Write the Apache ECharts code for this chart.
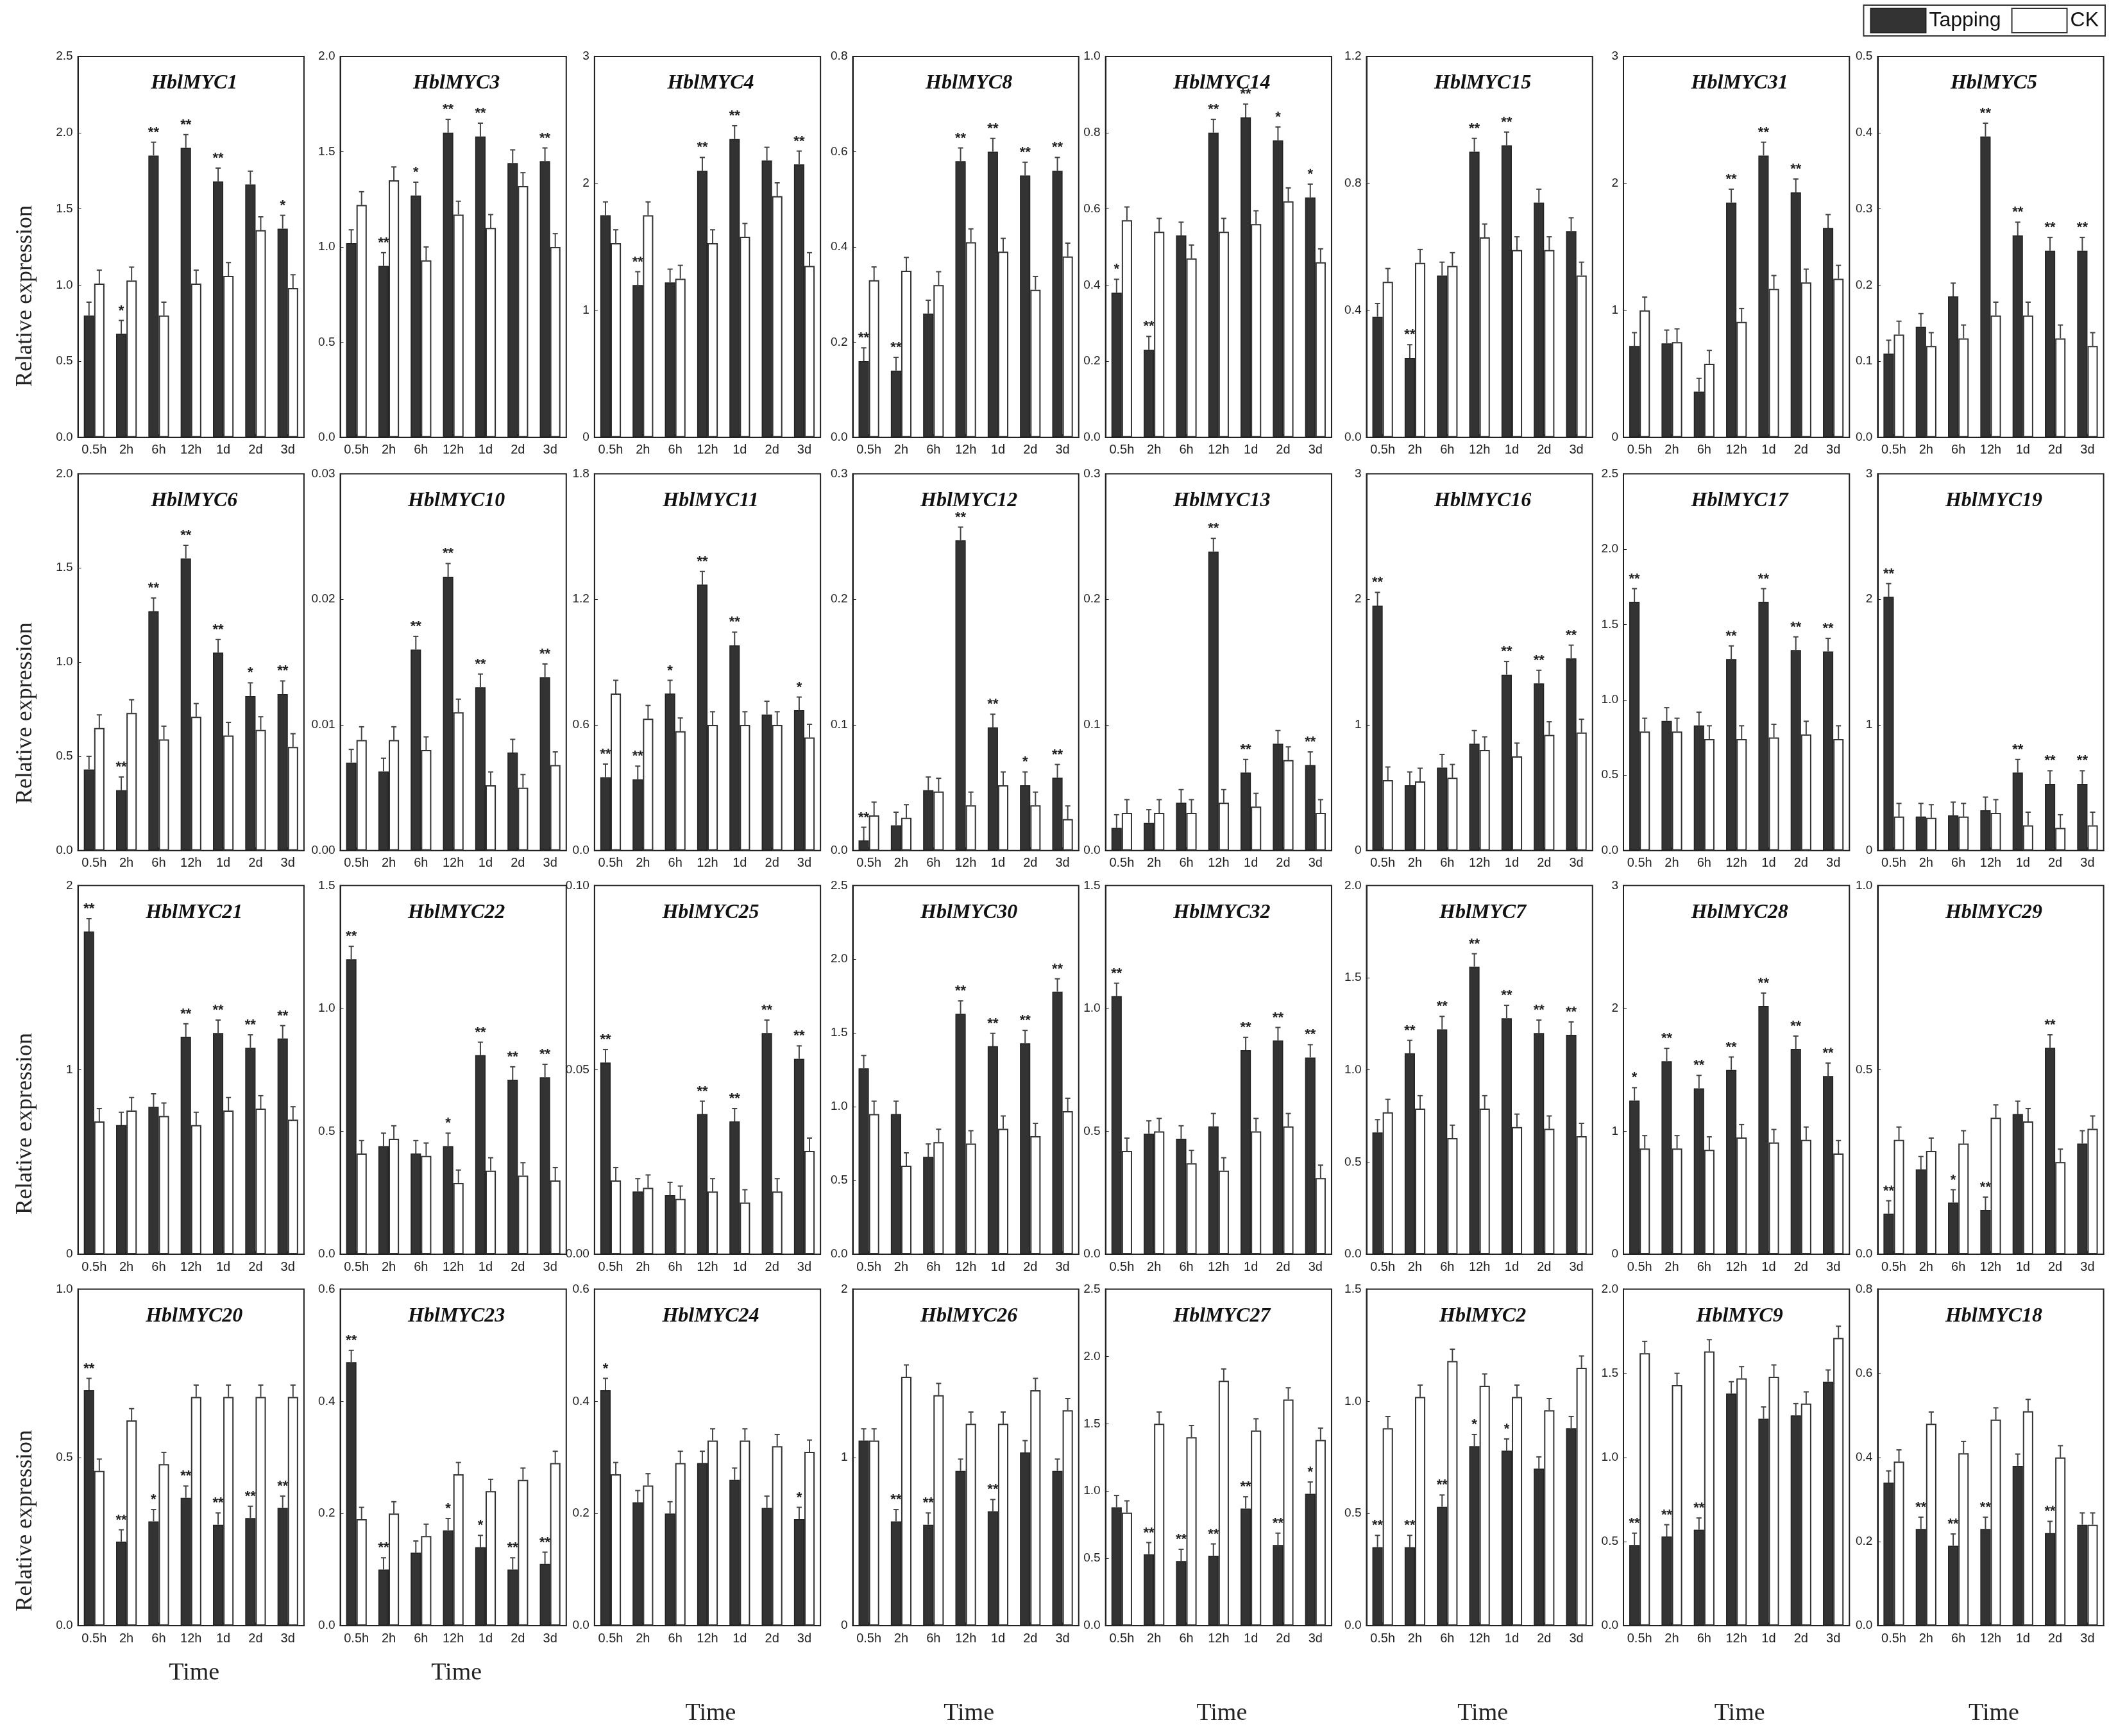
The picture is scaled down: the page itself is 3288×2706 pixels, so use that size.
<!DOCTYPE html>
<html><head><meta charset="utf-8">
<script src="https://cdn.jsdelivr.net/npm/echarts@6/dist/echarts.min.js"></script>
<style>html,body{margin:0;background:#fff}#c{width:3288px;height:2706px}</style>
</head><body><div id="c"></div>
<script>
const categories = ['0.5h','2h','6h','12h','1d','2d','3d'];
const genes = ['HblMYC1','HblMYC3','HblMYC4','HblMYC8','HblMYC14','HblMYC15','HblMYC31','HblMYC5',
 'HblMYC6','HblMYC10','HblMYC11','HblMYC12','HblMYC13','HblMYC16','HblMYC17','HblMYC19',
 'HblMYC21','HblMYC22','HblMYC25','HblMYC30','HblMYC32','HblMYC7','HblMYC28','HblMYC29',
 'HblMYC20','HblMYC23','HblMYC24','HblMYC26','HblMYC27','HblMYC2','HblMYC9','HblMYC18'];
const yMax = [2.5,2.0,3,0.8,1.0,1.2,3,0.5, 2.0,0.03,1.8,0.3,0.3,3,2.5,3, 2,1.5,0.10,2.5,1.5,2.0,3,1.0, 1.0,0.6,0.6,2,2.5,1.5,2.0,0.8];
const yInterval = [0.5,0.5,1,0.2,0.2,0.4,1,0.1, 0.5,0.01,0.6,0.1,0.1,1,0.5,1, 1,0.5,0.05,0.5,0.5,0.5,1,0.5, 0.5,0.2,0.2,1,0.5,0.5,0.5,0.2];
const tapping = [
 [0.8,0.68,1.85,1.9,1.68,1.66,1.37],[1.02,0.9,1.27,1.6,1.58,1.44,1.45],[1.75,1.2,1.22,2.1,2.35,2.18,2.15],[0.16,0.14,0.26,0.58,0.6,0.55,0.56],
 [0.38,0.23,0.53,0.8,0.84,0.78,0.63],[0.38,0.25,0.51,0.9,0.92,0.74,0.65],[0.72,0.74,0.36,1.85,2.22,1.93,1.65],[0.11,0.145,0.185,0.395,0.265,0.245,0.245],
 [0.43,0.32,1.27,1.55,1.05,0.82,0.83],[0.007,0.0063,0.016,0.0218,0.013,0.0078,0.0138],[0.35,0.34,0.75,1.27,0.98,0.65,0.67],[0.008,0.02,0.048,0.247,0.098,0.052,0.058],
 [0.018,0.022,0.038,0.238,0.062,0.085,0.068],[1.95,0.52,0.66,0.85,1.4,1.33,1.53],[1.65,0.86,0.83,1.27,1.65,1.33,1.32],[2.02,0.27,0.28,0.32,0.62,0.53,0.53],
 [1.75,0.7,0.8,1.18,1.2,1.12,1.17],[1.2,0.44,0.41,0.44,0.81,0.71,0.72],[0.052,0.017,0.016,0.038,0.036,0.06,0.053],[1.26,0.95,0.66,1.63,1.41,1.43,1.78],
 [1.05,0.49,0.47,0.52,0.83,0.87,0.8],[0.66,1.09,1.22,1.56,1.28,1.2,1.19],[1.25,1.57,1.35,1.5,2.02,1.67,1.45],[0.11,0.23,0.14,0.12,0.38,0.56,0.3],
 [0.7,0.25,0.31,0.38,0.3,0.32,0.35],[0.47,0.1,0.13,0.17,0.14,0.1,0.11],[0.42,0.22,0.2,0.29,0.26,0.21,0.19],[1.1,0.62,0.6,0.92,0.68,1.03,0.92],
 [0.88,0.53,0.48,0.52,0.87,0.6,0.98],[0.35,0.35,0.53,0.8,0.78,0.7,0.88],[0.48,0.53,0.57,1.38,1.23,1.25,1.45],[0.34,0.23,0.19,0.23,0.38,0.22,0.24]];
const ck = [
 [1.01,1.03,0.8,1.01,1.06,1.36,0.98],[1.22,1.35,0.93,1.17,1.1,1.32,1.0],[1.53,1.75,1.25,1.53,1.58,1.9,1.35],[0.33,0.35,0.32,0.41,0.39,0.31,0.38],
 [0.57,0.54,0.47,0.54,0.56,0.62,0.46],[0.49,0.55,0.54,0.63,0.59,0.59,0.51],[1.0,0.75,0.58,0.91,1.17,1.22,1.25],[0.135,0.12,0.13,0.16,0.16,0.13,0.12],
 [0.65,0.73,0.59,0.71,0.61,0.64,0.55],[0.0088,0.0088,0.008,0.011,0.0052,0.005,0.0068],[0.75,0.63,0.57,0.6,0.6,0.6,0.54],[0.028,0.026,0.047,0.036,0.052,0.036,0.025],
 [0.03,0.03,0.03,0.038,0.035,0.072,0.03],[0.56,0.55,0.58,0.8,0.75,0.92,0.94],[0.79,0.79,0.74,0.74,0.75,0.77,0.74],[0.27,0.26,0.27,0.3,0.2,0.18,0.2],
 [0.72,0.78,0.75,0.7,0.78,0.79,0.73],[0.41,0.47,0.4,0.29,0.34,0.32,0.3],[0.02,0.018,0.015,0.017,0.014,0.017,0.028],[0.95,0.6,0.76,0.75,0.85,0.8,0.97],
 [0.42,0.5,0.37,0.34,0.5,0.52,0.31],[0.77,0.79,0.63,0.79,0.69,0.68,0.64],[0.86,0.86,0.85,0.95,0.91,0.93,0.82],[0.31,0.28,0.3,0.37,0.36,0.25,0.34],
 [0.46,0.61,0.48,0.68,0.68,0.68,0.68],[0.19,0.2,0.16,0.27,0.24,0.26,0.29],[0.27,0.25,0.29,0.33,0.33,0.32,0.31],[1.1,1.48,1.37,1.2,1.2,1.4,1.28],
 [0.84,1.5,1.4,1.82,1.45,1.68,1.38],[0.88,1.02,1.18,1.07,1.02,0.96,1.15],[1.62,1.43,1.63,1.47,1.48,1.32,1.71],[0.39,0.48,0.41,0.49,0.51,0.4,0.24]];
const stars = [
 ['','*','**','**','**','','*'],['','**','*','**','**','','**'],['','**','','**','**','','**'],['**','**','','**','**','**','**'],
 ['*','**','','**','**','*','*'],['','**','','**','**','',''],['','','','**','**','**',''],['','','','**','**','**','**'],
 ['','**','**','**','**','*','**'],['','','**','**','**','','**'],['**','**','*','**','**','','*'],['**','','','**','**','*','**'],
 ['','','','**','**','','**'],['**','','','','**','**','**'],['**','','','**','**','**','**'],['**','','','','**','**','**'],
 ['**','','','**','**','**','**'],['**','','','*','**','**','**'],['**','','','**','**','**','**'],['','','','**','**','**','**'],
 ['**','','','','**','**','**'],['','**','**','**','**','**','**'],['*','**','**','**','**','**','**'],['**','','*','**','','**',''],
 ['**','**','*','**','**','**','**'],['**','**','','*','*','**','**'],['*','','','','','','*'],['','**','**','','**','',''],
 ['','**','**','**','**','**','*'],['**','**','**','*','*','',''],['**','**','**','','','',''],['','**','**','**','','**','']];

const W=3288,H=2706,sx=W/1568,sy=H/1290;
const colL=[58,253,442,634,822,1016,1207,1396], pw=168;
const rowT=[42,352,658,958], rowH=[283,280,274,250];
const timeY=[1232,1232,1262,1262,1262,1262,1262,1262];
const grids=[],xA=[],yA=[],series=[],titles=[];
const errFrac=0.035;
function dec(v){const s=String(v);return s.includes('.')?s.split('.')[1].length:0;}
genes.forEach((g,k)=>{
  const r=Math.floor(k/8),c=k%8;
  grids.push({left:colL[c]*sx,top:rowT[r]*sy,width:pw*sx,height:rowH[r]*sy,show:true,borderColor:'#222',borderWidth:2,backgroundColor:'#fff'});
  const d=dec(yInterval[k]);
  xA.push({type:'category',gridIndex:k,data:categories,axisLine:{lineStyle:{color:'#222',width:2}},axisTick:{show:true,inside:true,alignWithLabel:true,lineStyle:{color:'#222'}},axisLabel:{fontSize:20,color:'#222',fontFamily:'Liberation Sans',margin:10,interval:0}});
  yA.push({type:'value',gridIndex:k,min:0,max:yMax[k],interval:yInterval[k],splitLine:{show:false},axisLine:{show:true,lineStyle:{color:'#222',width:2}},axisTick:{show:true,inside:true,lineStyle:{color:'#222'}},axisLabel:{fontSize:19,color:'#222',fontFamily:'Liberation Sans',formatter:v=>v.toFixed(d)}});
  const e=yMax[k]*errFrac;
  series.push({type:'bar',name:'Tapping',xAxisIndex:k,yAxisIndex:k,data:tapping[k],barWidth:'32%',barGap:'0%',itemStyle:{color:'#333',borderColor:'#222',borderWidth:1.5}});
  series.push({type:'bar',name:'CK',xAxisIndex:k,yAxisIndex:k,data:ck[k],barWidth:'32%',barGap:'0%',itemStyle:{color:'#fff',borderColor:'#333',borderWidth:2}});
  const errRender=(off)=>function(params,api){
    const i=api.value(0),v=api.value(1),er=api.value(2);
    const p0=api.coord([i,v]),p1=api.coord([i,v+er]);
    const bw=api.size([1,0])[0]*0.32;const x=p0[0]+off*bw/2;
    return {type:'group',children:[
      {type:'line',shape:{x1:x,y1:p0[1],x2:x,y2:p1[1]},style:{stroke:'#444',lineWidth:2}},
      {type:'line',shape:{x1:x-bw*0.25,y1:p1[1],x2:x+bw*0.25,y2:p1[1]},style:{stroke:'#444',lineWidth:2}}]};
  };
  series.push({type:'custom',xAxisIndex:k,yAxisIndex:k,renderItem:errRender(-1),data:tapping[k].map((v,i)=>[i,v,e]),z:5});
  series.push({type:'custom',xAxisIndex:k,yAxisIndex:k,renderItem:errRender(1),data:ck[k].map((v,i)=>[i,v,e]),z:5});
  series.push({type:'custom',xAxisIndex:k,yAxisIndex:k,z:6,data:tapping[k].map((v,i)=>[i,v+e,stars[k][i]]),
    renderItem:function(params,api){const i=api.value(0),v=api.value(1);const p=api.coord([i,v]);const bw=api.size([1,0])[0]*0.32;
      return {type:'text',style:{x:p[0]-bw/2,y:p[1]-4,text:stars[k][i],textAlign:'center',textVerticalAlign:'bottom',font:'bold 22px Liberation Sans',fill:'#222'}};}});
  titles.push({text:g,left:(colL[c]+pw/2)*sx,top:(rowT[r]+10)*sy,textAlign:'center',textStyle:{fontFamily:'Liberation Serif',fontStyle:'italic',fontWeight:'bold',fontSize:32,color:'#111'}});
});
colL.forEach((x,i)=>titles.push({text:'Time',left:(x+pw/2)*sx,top:timeY[i]*sy,textAlign:'center',textStyle:{fontFamily:'Liberation Serif',fontSize:38,fontWeight:'normal',color:'#222'}}));
const chart=echarts.init(document.getElementById('c'));
chart.setOption({animation:false,backgroundColor:'#fff',title:titles,grid:grids,xAxis:xA,yAxis:yA,series,
  legend:{data:[{name:'Tapping',icon:'rect'},{name:'CK',icon:'rect'}],right:6,top:8,itemWidth:86,itemHeight:38,itemGap:16,borderColor:'#333',borderWidth:2,padding:[4,10],textStyle:{fontSize:32,fontFamily:'Liberation Sans',color:'#111'}},
  graphic:[180,490,795,1090].map(y=>({type:'text',x:22,y:(y+40)*sy,rotation:Math.PI/2,style:{text:'Relative expression',font:'36px Liberation Serif',fill:'#222',textAlign:'center',textVerticalAlign:'top'}}))
});
</script></body></html>
